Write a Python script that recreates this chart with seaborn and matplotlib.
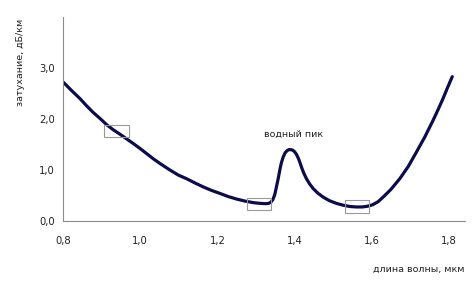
import matplotlib
matplotlib.use("Agg")
import matplotlib.pyplot as plt
from matplotlib.patches import Rectangle
import seaborn as sns
import pandas as pd

# wavelength (um) and attenuation (dB/km)
wavelength = [0.801, 0.822, 0.844, 0.861, 0.878, 0.896, 0.913, 0.930, 0.948, 0.965,
              0.982, 1.000, 1.017, 1.034, 1.051, 1.077, 1.099, 1.120, 1.141, 1.163,
              1.185, 1.207, 1.228, 1.250, 1.272, 1.293, 1.312, 1.325, 1.333, 1.339,
              1.344, 1.349, 1.353, 1.358, 1.362, 1.366, 1.371, 1.376, 1.381, 1.386,
              1.390, 1.395, 1.400, 1.405, 1.410, 1.414, 1.418, 1.424, 1.431, 1.439,
              1.448, 1.460, 1.474, 1.490, 1.509, 1.526, 1.543, 1.560, 1.575, 1.590,
              1.603, 1.617, 1.630, 1.650, 1.673, 1.695, 1.716, 1.738, 1.759, 1.772,
              1.785, 1.797, 1.809]
attenuation = [2.72, 2.56, 2.40, 2.26, 2.13, 2.01, 1.89, 1.79, 1.70, 1.61,
               1.52, 1.42, 1.32, 1.22, 1.13, 1.00, 0.90, 0.83, 0.75, 0.67,
               0.60, 0.54, 0.48, 0.43, 0.39, 0.36, 0.345, 0.34, 0.345, 0.37,
               0.42, 0.52, 0.66, 0.84, 1.00, 1.14, 1.26, 1.34, 1.38, 1.40,
               1.40, 1.39, 1.36, 1.31, 1.23, 1.15, 1.06, 0.94, 0.83, 0.73,
               0.64, 0.55, 0.47, 0.40, 0.345, 0.31, 0.285, 0.275, 0.275, 0.29,
               0.32, 0.38, 0.47, 0.62, 0.83, 1.07, 1.35, 1.65, 1.97, 2.18,
               2.40, 2.62, 2.83]

# transparency windows marked by boxes: (x0, x1, y0, y1)
window_x0 = [0.906, 1.276, 1.531]
window_x1 = [0.971, 1.340, 1.594]
window_y0 = [1.64, 0.21, 0.16]
window_y1 = [1.875, 0.46, 0.41]

x_ticks = [0.8, 1.0, 1.2, 1.4, 1.6, 1.8]
x_tick_labels = ["0,8", "1,0", "1,2", "1,4", "1,6", "1,8"]
y_ticks = [0, 1, 2, 3]
y_tick_labels = ["0,0", "1,0", "2,0", "3,0"]

peak_label = "водный пик"
x_label = "длина волны, мкм"
y_label = "затухание, дБ/км"

sns.set_style("white")
plt.rcParams['font.family'] = ['DejaVu Sans']

fig = plt.figure(figsize=(4.72, 2.89), dpi=100)
ax = fig.add_axes([63/472, 1 - 221/289, (465 - 63)/472, (221 - 17)/289])

df = pd.DataFrame({"wl": wavelength, "att": attenuation})
sns.lineplot(data=df, x="wl", y="att", sort=False, ax=ax, color="#0c0c4a",
             linewidth=2.3, solid_joinstyle="round", solid_capstyle="round")

for x0, x1, y0, y1 in zip(window_x0, window_x1, window_y0, window_y1):
    ax.add_patch(Rectangle((x0, y0), x1 - x0, y1 - y0, fill=False,
                           edgecolor="#9a9a9a", linewidth=0.8, zorder=3))

ax.text(1.397, 1.70, peak_label, ha="center", va="center", fontsize=6.8, color="#222222")

ax.set_xlim(0.8, 1.842)
ax.set_ylim(0, 4.0)
ax.set_xticks(x_ticks)
ax.set_xticklabels(x_tick_labels)
ax.set_yticks(y_ticks)
ax.set_yticklabels(y_tick_labels)

for s in ["top", "right"]:
    ax.spines[s].set_visible(False)
for s in ["left", "bottom"]:
    ax.spines[s].set_color("#8c8c8c")
    ax.spines[s].set_linewidth(0.8)

ax.tick_params(axis="x", direction="inout", length=5, width=0.8, color="#8c8c8c",
               labelsize=7.2, labelcolor="#222222", pad=8)
ax.tick_params(axis="y", direction="out", length=4, width=0.8, color="#8c8c8c",
               labelsize=7.2, labelcolor="#222222", pad=2)

ax.set_xlabel(x_label, fontsize=6.8, color="#222222", ha="right")
ax.xaxis.set_label_coords(1.0, -0.215)
ax.set_ylabel(y_label, fontsize=6.8, color="#222222")
ax.yaxis.set_label_coords(-0.095, 0.78)

fig.savefig("out.png", dpi=100)
